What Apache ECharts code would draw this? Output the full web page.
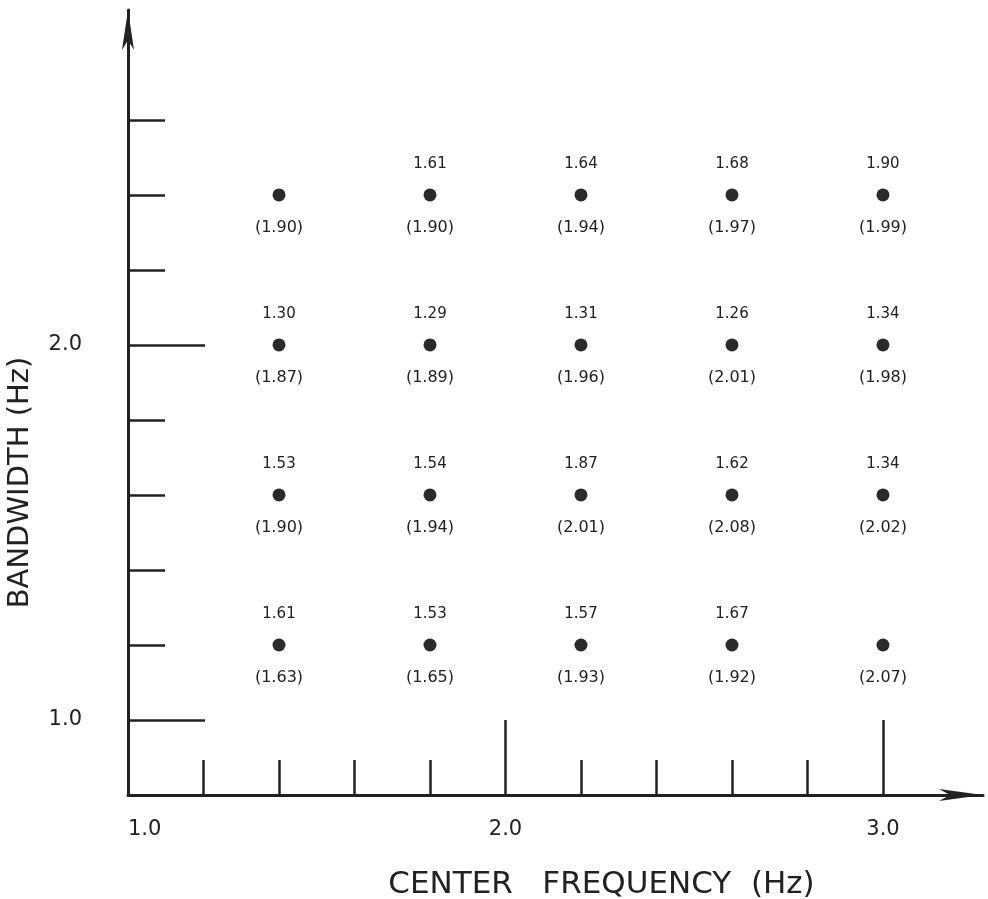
<!DOCTYPE html>
<html>
<head>
<meta charset="utf-8">
<script src="https://cdn.jsdelivr.net/npm/echarts@6/dist/echarts.min.js"></script>
<style>
    html, body { margin: 0; padding: 0; background: #fff; }
    #chart { width: 988px; height: 899px; }
</style>
</head>
<body>
<div id="chart"></div>
<script>
    // grid columns / rows of the experiment
    var freqs = [1.4, 1.8, 2.2, 2.6, 3.0];
    var bandwidths = [2.4, 2.0, 1.6, 1.2];

    // value printed above each dot (null = nothing printed)
    var upperVals = [
        [null, 1.61, 1.64, 1.68, 1.90],
        [1.30, 1.29, 1.31, 1.26, 1.34],
        [1.53, 1.54, 1.87, 1.62, 1.34],
        [1.61, 1.53, 1.57, 1.67, null]
    ];
    // value printed below each dot, in parentheses
    var lowerVals = [
        [1.90, 1.90, 1.94, 1.97, 1.99],
        [1.87, 1.89, 1.96, 2.01, 1.98],
        [1.90, 1.94, 2.01, 2.08, 2.02],
        [1.63, 1.65, 1.93, 1.92, 2.07]
    ];

    // tick positions
    var xMajorTicks = [1.0, 2.0, 3.0];
    var xMinorTicks = [1.2, 1.4, 1.6, 1.8, 2.2, 2.4, 2.6, 2.8];
    var yMajorTicks = [1.0, 2.0];
    var yMinorTicks = [1.2, 1.4, 1.6, 1.8, 2.2, 2.4, 2.6];

    var ink = '#222';
    var fontName = 'DejaVu Sans';

    var points = [];
    for (var i = 0; i < bandwidths.length; i++) {
        for (var j = 0; j < freqs.length; j++) {
            points.push([freqs[j], bandwidths[i], upperVals[i][j], lowerVals[i][j]]);
        }
    }

    var chart = echarts.init(document.getElementById('chart'));

    var option = {
        backgroundColor: '#fff',
        animation: false,
        grid: {left: 128, right: 5, top: 10, bottom: 104, outerBoundsMode: 'none'},
        xAxis: [
            {
                type: 'value', min: 1.0, max: 3.265,
                name: 'CENTER   FREQUENCY  (Hz)',
                nameLocation: 'middle',
                nameGap: 74,
                nameTextStyle: {color: ink, fontSize: 31, fontFamily: fontName, padding: [0, 0, 0, 92]},
                axisLine: {
                    show: true,
                    lineStyle: {color: ink, width: 3},
                    symbol: ['none', 'arrow'],
                    symbolSize: [9, 44]
                },
                axisTick: {show: true, inside: true, length: 75, customValues: xMajorTicks,
                    lineStyle: {color: ink, width: 2.5}},
                axisLabel: {
                    customValues: xMajorTicks, margin: 24, alignMinLabel: 'left',
                    color: ink, fontSize: 21, fontFamily: fontName,
                    formatter: function (v) { return v.toFixed(1); }
                },
                splitLine: {show: false}
            },
            {
                type: 'value', min: 1.0, max: 3.265, position: 'bottom',
                axisLine: {show: false},
                axisTick: {show: true, inside: true, length: 35, customValues: xMinorTicks,
                    lineStyle: {color: ink, width: 2.5}},
                axisLabel: {show: false},
                splitLine: {show: false}
            }
        ],
        yAxis: [
            {
                type: 'value', min: 0.8, max: 2.893,
                name: 'BANDWIDTH (Hz)',
                nameLocation: 'middle',
                nameGap: 93,
                nameTextStyle: {color: ink, fontSize: 29, fontFamily: fontName, padding: [0, 160, 0, 0]},
                axisLine: {
                    show: true,
                    lineStyle: {color: ink, width: 3},
                    symbol: ['none', 'arrow'],
                    symbolSize: [9, 40]
                },
                axisTick: {show: true, inside: true, length: 77, customValues: yMajorTicks,
                    lineStyle: {color: ink, width: 2.5}},
                axisLabel: {
                    customValues: yMajorTicks, margin: 46,
                    color: ink, fontSize: 21, fontFamily: fontName,
                    formatter: function (v) { return v.toFixed(1); }
                },
                splitLine: {show: false}
            },
            {
                type: 'value', min: 0.8, max: 2.893, position: 'left',
                axisLine: {show: false},
                axisTick: {show: true, inside: true, length: 37, customValues: yMinorTicks,
                    lineStyle: {color: ink, width: 2.5}},
                axisLabel: {show: false},
                splitLine: {show: false}
            }
        ],
        series: [
            {
                type: 'scatter',
                xAxisIndex: 0, yAxisIndex: 0,
                symbol: 'circle',
                symbolSize: 13,
                itemStyle: {color: '#2a2a2a', opacity: 1},
                data: points,
                label: {
                    show: true, position: 'top', distance: 17,
                    color: ink, fontSize: 15, fontFamily: fontName,
                    formatter: function (p) {
                        return p.value[2] == null ? '' : p.value[2].toFixed(2);
                    }
                }
            },
            {
                type: 'scatter',
                xAxisIndex: 0, yAxisIndex: 0,
                symbol: 'circle',
                symbolSize: 13,
                itemStyle: {color: 'rgba(0,0,0,0)', opacity: 1},
                data: points,
                label: {
                    show: true, position: 'bottom', distance: 18,
                    color: ink, fontSize: 16, fontFamily: fontName,
                    formatter: function (p) {
                        return '(' + p.value[3].toFixed(2) + ')';
                    }
                }
            }
        ]
    };

    chart.setOption(option);
</script>
</body>
</html>
